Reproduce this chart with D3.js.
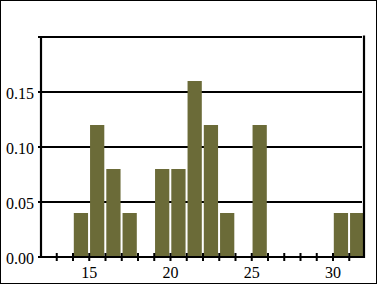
<!DOCTYPE html>
<html>
<head>
<meta charset="utf-8">
<script src="https://cdn.jsdelivr.net/npm/d3@7"></script>
<style>
  html, body { margin: 0; padding: 0; background: #fff; }
  svg { display: block; }
  text { font-family: "Liberation Serif", "Times New Roman", serif; font-size: 16px; fill: #000; }
</style>
</head>
<body>
<svg id="chart" width="384" height="299"></svg>
<script>
// Histogram bins (left edge of each unit-wide bin) and relative frequencies
const binStarts = [14, 15, 16, 17, 19, 20, 21, 22, 23, 25, 30, 31];
const freqs     = [0.04, 0.12, 0.08, 0.04, 0.08, 0.08, 0.16, 0.12, 0.04, 0.12, 0.04, 0.04];
const yTicks = [0, 0.05, 0.10, 0.15];
const gridVals = [0.05, 0.10, 0.15, 0.20];
const xLabelTicks = [15, 20, 25, 30];
const xMinorTicks = d3.range(13, 32);

const svg = d3.select("#chart");

// outer frame
svg.append("rect")
  .attr("x", 0.5).attr("y", 0.5)
  .attr("width", 376).attr("height", 283)
  .attr("fill", "none").attr("stroke", "#000").attr("stroke-width", 1)
  .attr("shape-rendering", "crispEdges");

const x = d3.scaleLinear().domain([12, 32]).range([40.5, 365.5]);
const y = d3.scaleLinear().domain([0, 0.2]).range([257, 37]);

const plotRight = 364;

// gridlines
svg.append("g").selectAll("line").data(gridVals).join("line")
  .attr("x1", 38).attr("x2", 362)
  .attr("y1", d => y(d)).attr("y2", d => y(d))
  .attr("stroke", "#000").attr("stroke-width", 2.2);

// bars
svg.append("g").selectAll("rect").data(binStarts).join("rect")
  .attr("x", d => x(d) + 0.8)
  .attr("width", d => x(d + 1) - x(d) - 2)
  .attr("y", (d, i) => y(freqs[i]))
  .attr("height", (d, i) => y(0) - y(freqs[i]))
  .attr("fill", "#6b6b38");

// left axis line
svg.append("line")
  .attr("x1", 41).attr("x2", 41).attr("y1", 36).attr("y2", 258)
  .attr("stroke", "#000").attr("stroke-width", 2.2);
// right line
svg.append("line")
  .attr("x1", plotRight).attr("x2", plotRight).attr("y1", 35.5).attr("y2", 258)
  .attr("stroke", "#000").attr("stroke-width", 2.2);
// bottom axis line
svg.append("line")
  .attr("x1", 38).attr("x2", plotRight - 1).attr("y1", y(0)).attr("y2", y(0))
  .attr("stroke", "#000").attr("stroke-width", 2.2);

// x ticks
svg.append("g").selectAll("line").data(xMinorTicks).join("line")
  .attr("x1", d => x(d)).attr("x2", d => x(d))
  .attr("y1", y(0) - 4).attr("y2", y(0) + 4)
  .attr("stroke", "#000").attr("stroke-width", 2);

// x labels
svg.append("g").selectAll("text").data(xLabelTicks).join("text")
  .attr("x", d => x(d)).attr("y", 277.5)
  .attr("text-anchor", "middle")
  .text(d => d);

// y labels
svg.append("g").selectAll("text").data(yTicks).join("text")
  .attr("x", 34).attr("y", d => y(d) + 7)
  .attr("text-anchor", "end")
  .text(d => d3.format(".2f")(d));
</script>
</body>
</html>
